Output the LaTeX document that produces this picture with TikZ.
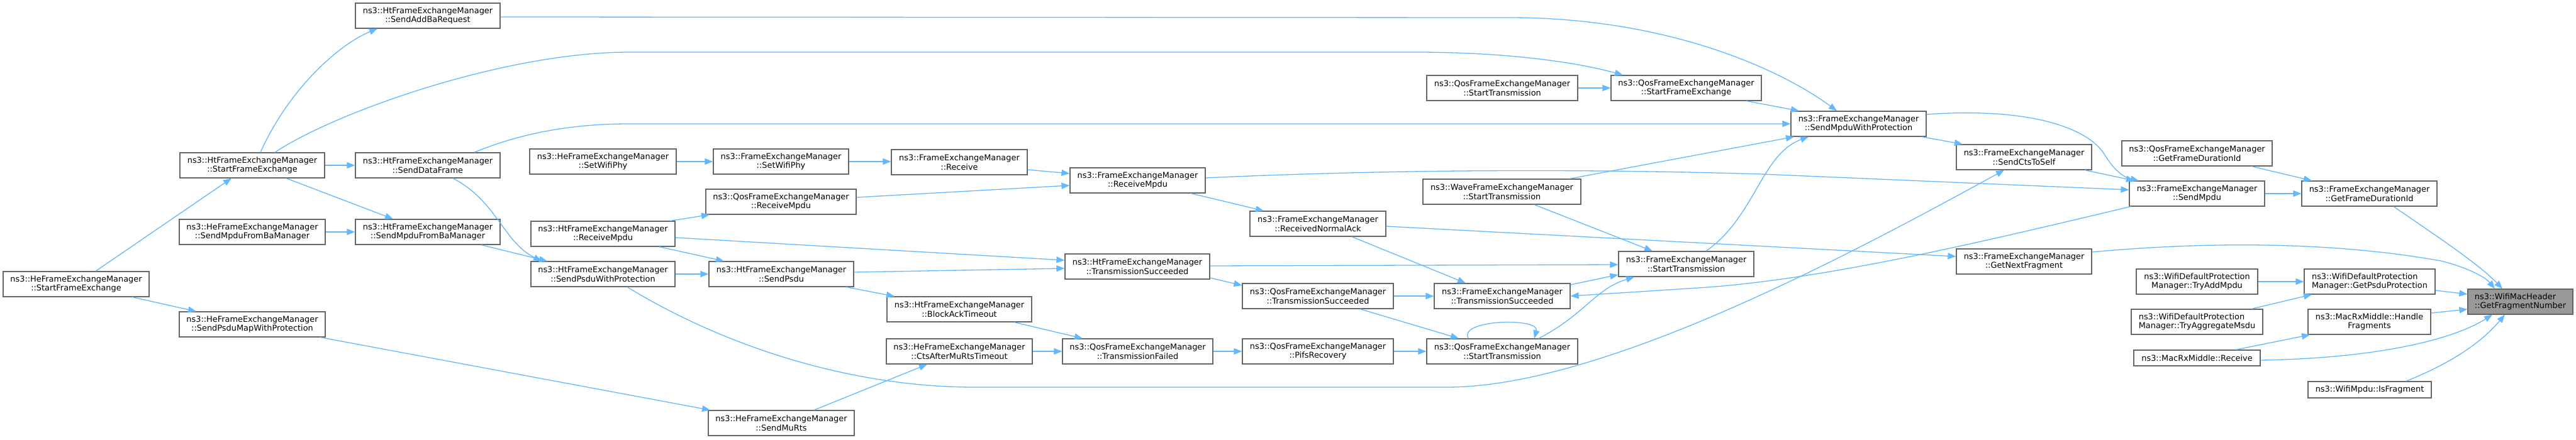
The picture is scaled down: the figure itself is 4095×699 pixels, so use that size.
\documentclass[tikz,border=0pt]{standalone}
\usepackage{fontspec}
\setmainfont{DejaVu Sans}
\usetikzlibrary{arrows.meta}
\definecolor{edgec}{HTML}{63B8FF}
\definecolor{boxc}{HTML}{666666}
\definecolor{tgtfill}{HTML}{999999}
\newcommand{\ndbox}[7][]{\node[box,minimum width={(#5-#3)*1pt},minimum height={(#6-#4)*1pt},#1] (#2) at ({(#3+#5)/2},{(#4+#6)/2}) {#7};}
\begin{document}
\begin{tikzpicture}[x=1pt,y=-1pt,
  box/.style={draw=boxc,line width=1.2pt,fill=white,inner sep=0pt,align=center,font=\fontsize{12.9}{14.7}\selectfont},
  edge/.style={draw=edgec,line width=1.3pt,-{Triangle[length=13pt,width=10pt]}}]
\fill[white] (0,0) rectangle (4095,699);
\useasboundingbox (0,0) rectangle (4095,699);
% nodes
\ndbox{HeSFE}{5}{432}{237}{472}{ns3::HeFrameExchangeManager\\::StartFrameExchange}
\ndbox{HtSFE}{286}{243}{516}{283}{ns3::HtFrameExchangeManager\\::StartFrameExchange}
\ndbox{HeMpduBa}{285}{349}{517}{389}{ns3::HeFrameExchangeManager\\::SendMpduFromBaManager}
\ndbox{HePsduMap}{285}{496}{517}{536}{ns3::HeFrameExchangeManager\\::SendPsduMapWithProtection}
\ndbox{AddBa}{565}{5}{795}{45}{ns3::HtFrameExchangeManager\\::SendAddBaRequest}
\ndbox{DataFr}{565}{243}{795}{283}{ns3::HtFrameExchangeManager\\::SendDataFrame}
\ndbox{HtMpduBa}{565}{349}{795}{389}{ns3::HtFrameExchangeManager\\::SendMpduFromBaManager}
\ndbox{HeSetPhy}{842}{237}{1075}{277}{ns3::HeFrameExchangeManager\\::SetWifiPhy}
\ndbox{HtRecvMpdu}{844}{352}{1073}{392}{ns3::HtFrameExchangeManager\\::ReceiveMpdu}
\ndbox{HtPsduProt}{844}{416}{1073}{456}{ns3::HtFrameExchangeManager\\::SendPsduWithProtection}
\ndbox{FemSetPhy}{1134}{237}{1349}{277}{ns3::FrameExchangeManager\\::SetWifiPhy}
\ndbox{QosRecvMpdu}{1122}{301}{1361}{341}{ns3::QosFrameExchangeManager\\::ReceiveMpdu}
\ndbox{SendPsdu}{1127}{416}{1357}{456}{ns3::HtFrameExchangeManager\\::SendPsdu}
\ndbox{MuRts}{1126}{653}{1358}{693}{ns3::HeFrameExchangeManager\\::SendMuRts}
\ndbox{FemRecv}{1417}{238}{1633}{278}{ns3::FrameExchangeManager\\::Receive}
\ndbox{BaTimeout}{1410}{472}{1640}{512}{ns3::HtFrameExchangeManager\\::BlockAckTimeout}
\ndbox{CtsTimeout}{1409}{539}{1641}{579}{ns3::HeFrameExchangeManager\\::CtsAfterMuRtsTimeout}
\ndbox{FemRecvMpdu}{1701}{267}{1916}{307}{ns3::FrameExchangeManager\\::ReceiveMpdu}
\ndbox{HtTxSucc}{1693}{404}{1923}{444}{ns3::HtFrameExchangeManager\\::TransmissionSucceeded}
\ndbox{QosTxFail}{1689}{539}{1928}{579}{ns3::QosFrameExchangeManager\\::TransmissionFailed}
\ndbox{NormalAck}{1987}{336}{2203}{376}{ns3::FrameExchangeManager\\::ReceivedNormalAck}
\ndbox{QosTxSucc}{1975}{451}{2215}{491}{ns3::QosFrameExchangeManager\\::TransmissionSucceeded}
\ndbox{Pifs}{1975}{539}{2215}{579}{ns3::QosFrameExchangeManager\\::PifsRecovery}
\ndbox{QosSTa}{2268}{120}{2508}{160}{ns3::QosFrameExchangeManager\\::StartTransmission}
\ndbox{WaveST}{2262}{285}{2513}{325}{ns3::WaveFrameExchangeManager\\::StartTransmission}
\ndbox{FemTxSucc}{2280}{451}{2496}{491}{ns3::FrameExchangeManager\\::TransmissionSucceeded}
\ndbox{QosSTb}{2268}{539}{2508}{579}{ns3::QosFrameExchangeManager\\::StartTransmission}
\ndbox{QosSFE}{2561}{120}{2800}{160}{ns3::QosFrameExchangeManager\\::StartFrameExchange}
\ndbox{FemST}{2573}{400}{2788}{440}{ns3::FrameExchangeManager\\::StartTransmission}
\ndbox{MpduProt}{2847}{177}{3062}{217}{ns3::FrameExchangeManager\\::SendMpduWithProtection}
\ndbox{CtsSelf}{3110}{230}{3325}{270}{ns3::FrameExchangeManager\\::SendCtsToSelf}
\ndbox{NextFrag}{3110}{396}{3325}{436}{ns3::FrameExchangeManager\\::GetNextFragment}
\ndbox{QosGFD}{3373}{224}{3612}{264}{ns3::QosFrameExchangeManager\\::GetFrameDurationId}
\ndbox{SendMpdu}{3385}{288}{3600}{328}{ns3::FrameExchangeManager\\::SendMpdu}
\ndbox{TryAdd}{3396}{428}{3589}{468}{ns3::WifiDefaultProtection\\Manager::TryAddMpdu}
\ndbox[align=left]{TryAgg}{3388}{492}{3597}{532}{ns3::WifiDefaultProtection\\Manager::TryAggregateMsdu}
\ndbox{RxRecv}{3392}{557}{3593}{582}{ns3::MacRxMiddle::Receive}
\ndbox{FemGFD}{3659}{288}{3874}{328}{ns3::FrameExchangeManager\\::GetFrameDurationId}
\ndbox[align=left]{GetPsduProt}{3663}{428}{3871}{468}{ns3::WifiDefaultProtection\\Manager::GetPsduProtection}
\ndbox{HandleFrag}{3669}{492}{3864}{532}{ns3::MacRxMiddle::Handle\\Fragments}
\ndbox{IsFrag}{3669}{607}{3865}{633}{ns3::WifiMpdu::IsFragment}
\ndbox[align=left,fill=tgtfill]{Target}{3923}{460}{4090}{500}{ns3::WifiMacHeader\\::GetFragmentNumber}
% edges
\draw[edge] (HeSFE.north -| 152,0) -- (HtSFE.south -| 368,0);
\draw[edge] (HeSFE.south -| 210,0) -- (HePsduMap.north -| 312,0);
\draw[edge] (HtSFE.north -| 414,0) .. controls (460,140) and (540,70) .. (AddBa.south -| 600,0);
\draw[edge] (HtSFE.east |- 0,263) -- (DataFr.west |- 0,263);
\draw[edge] (HtSFE.south -| 455,0) -- (HtMpduBa.north -| 625,0);
\draw[edge] (HtSFE.north -| 437,0) .. controls (530,180) and (800,83) .. (1000,83) -- (2250,83) .. controls (2400,83) and (2510,100) .. (QosSFE.north -| 2580,0);
\draw[edge] (HeMpduBa.east |- 0,369) -- (HtMpduBa.west |- 0,369);
\draw[edge] (HePsduMap.south -| 509,0) -- (MuRts.north -| 1129,0);
\draw[edge] (AddBa.east |- 0,27) -- (2400,28) .. controls (2650,28) and (2830,110) .. (MpduProt.north -| 2920,0);
\draw[edge] (DataFr.north -| 754,0) .. controls (820,215) and (900,197) .. (1000,197) -- (MpduProt.west |- 0,197);
\draw[edge] (DataFr.south -| 720,0) .. controls (790,320) and (800,385) .. (HtPsduProt.north -| 861,0);
\draw[edge] (HtMpduBa.south -| 765,0) -- (HtPsduProt.north -| 870,0);
\draw[edge] (HeSetPhy.east |- 0,257) -- (FemSetPhy.west |- 0,257);
\draw[edge] (FemSetPhy.east |- 0,257) -- (FemRecv.west |- 0,257);
\draw[edge] (HtRecvMpdu.north -| 1065,0) -- (QosRecvMpdu.south -| 1128,0);
\draw[edge] (HtRecvMpdu.south -| 1048,0) -- (SendPsdu.north -| 1151,0);
\draw[edge] (HtRecvMpdu.east |- 0,378) -- (HtTxSucc.west |- 0,414);
\draw[edge] (HtPsduProt.east |- 0,436) -- (SendPsdu.west |- 0,436);
\draw[edge] (HtPsduProt.south -| 997,0) .. controls (1150,550) and (1350,616) .. (1550,616) -- (2300,616) .. controls (2550,616) and (2950,400) .. (CtsSelf.south -| 3186,0);
\draw[edge] (SendPsdu.east |- 0,433) -- (HtTxSucc.west |- 0,427);
\draw[edge] (SendPsdu.south -| 1345,0) -- (BaTimeout.north -| 1422,0);
\draw[edge] (MuRts.north -| 1294,0) -- (CtsTimeout.south -| 1474,0);
\draw[edge] (QosRecvMpdu.east |- 0,314) -- (FemRecvMpdu.west |- 0,295);
\draw[edge] (FemRecv.east |- 0,270) -- (FemRecvMpdu.west |- 0,276);
\draw[edge] (FemRecvMpdu.south -| 1893,0) -- (NormalAck.north -| 2009,0);
\draw[edge] (FemRecvMpdu.east |- 0,283) .. controls (2200,270) and (2500,268) .. (2800,277) -- (SendMpdu.west |- 0,302);
\draw[edge] (HtTxSucc.east |- 0,442) -- (QosTxSucc.west |- 0,454);
\draw[edge] (HtTxSucc.east |- 0,423) -- (FemST.west |- 0,421);
\draw[edge] (BaTimeout.south -| 1612,0) -- (QosTxFail.north -| 1721,0);
\draw[edge] (CtsTimeout.east |- 0,559) -- (QosTxFail.west |- 0,559);
\draw[edge] (QosTxFail.east |- 0,559) -- (Pifs.west |- 0,559);
\draw[edge] (NormalAck.south -| 2149,0) -- (FemTxSucc.north -| 2330,0);
\draw[edge] (NormalAck.east |- 0,360) -- (NextFrag.west |- 0,408);
\draw[edge] (QosTxSucc.east |- 0,471) -- (FemTxSucc.west |- 0,471);
\draw[edge] (QosTxSucc.south -| 2162,0) -- (QosSTb.north -| 2319,0);
\draw[edge] (Pifs.east |- 0,559) -- (QosSTb.west |- 0,559);
\draw[edge] (QosSTb.north -| 2334,0) .. controls (2318,508) and (2448,505) .. (QosSTb.north -| 2439,0);
\draw[edge] (QosSTb.north -| 2446,0) .. controls (2520,500) and (2535,460) .. (FemST.south -| 2598,0);
\draw[edge] (FemTxSucc.east |- 0,453) -- (FemST.west |- 0,437);
\draw[edge] (WaveST.south -| 2439,0) -- (FemST.north -| 2627,0);
\draw[edge] (WaveST.north -| 2495,0) -- (MpduProt.south -| 2852,0);
\draw[edge] (FemST.north -| 2712,0) .. controls (2790,345) and (2800,245) .. (MpduProt.south -| 2875,0);
\draw[edge] (QosSTa.east |- 0,140) -- (QosSFE.west |- 0,140);
\draw[edge] (QosSFE.south -| 2776,0) -- (MpduProt.north -| 2860,0);
\draw[edge] (MpduProt.south -| 3055,0) -- (CtsSelf.north -| 3120,0);
\draw[edge] (MpduProt.east |- 0,182) .. controls (3230,170) and (3320,205) .. (3345,245) .. controls (3360,270) and (3375,282) .. (SendMpdu.north -| 3400,0);
\draw[edge] (CtsSelf.south -| 3314,0) -- (SendMpdu.north -| 3393,0);
\draw[edge] (SendMpdu.south -| 3387,0) .. controls (3150,385) and (2900,445) .. (2700,458) -- (FemTxSucc.east |- 0,471);
\draw[edge] (QosGFD.south -| 3579,0) -- (FemGFD.north -| 3675,0);
\draw[edge] (SendMpdu.east |- 0,308) -- (FemGFD.west |- 0,308);
\draw[edge] (TryAdd.east |- 0,448) -- (GetPsduProt.west |- 0,448);
\draw[edge] (TryAgg.north -| 3579,0) -- (GetPsduProt.south -| 3675,0);
\draw[edge] (RxRecv.north -| 3554,0) -- (HandleFrag.south -| 3672,0);
\draw[edge] (FemGFD.south -| 3805,0) .. controls (3880,380) and (3940,420) .. (Target.north -| 3978,0);
\draw[edge] (NextFrag.east |- 0,401) .. controls (3500,385) and (3700,383) .. (3880,415) .. controls (3920,425) and (3950,440) .. (Target.north -| 3966,0);
\draw[edge] (GetPsduProt.east |- 0,462) -- (Target.west |- 0,468);
\draw[edge] (HandleFrag.east |- 0,498) -- (Target.west |- 0,492);
\draw[edge] (RxRecv.east |- 0,573) .. controls (3780,570) and (3900,540) .. (Target.south -| 3962,0);
\draw[edge] (IsFrag.north -| 3825,0) .. controls (3890,580) and (3940,550) .. (Target.south -| 3982,0);
\end{tikzpicture}
\end{document}
